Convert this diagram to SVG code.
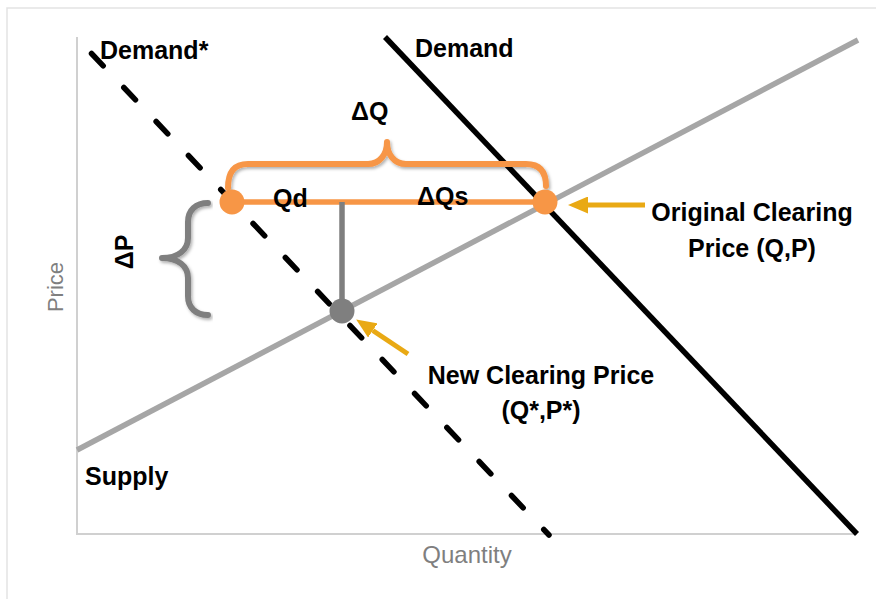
<svg xmlns="http://www.w3.org/2000/svg" width="876" height="599" viewBox="0 0 876 599">
<style>
.lbl{font-family:"Liberation Sans",Arial,sans-serif;font-weight:bold;font-size:25px;fill:#000}
.ax{font-family:"Liberation Sans",Arial,sans-serif;font-size:22px;fill:#7f7f7f}
.axis{stroke:#d0d0d0;stroke-width:2;fill:none}
.brace{fill:none;stroke-width:6;stroke-linecap:round;stroke-linejoin:round;filter:url(#sh)}
.gold{stroke:#e9a914;stroke-width:5;fill:none;marker-end:url(#ah)}
</style>
<defs>
<filter id="sh" x="-10%" y="-10%" width="120%" height="130%">
<feDropShadow dx="1.5" dy="2" stdDeviation="1.5" flood-color="#000" flood-opacity="0.3"/>
</filter>
<marker id="ah" viewBox="0 0 20 17" refX="0" refY="8.5" markerWidth="20" markerHeight="17" orient="auto" markerUnits="userSpaceOnUse">
<path d="M0,0 L20,8.5 L0,17 z" fill="#e9a914"/>
</marker>
</defs>
<rect x="7" y="8" width="900" height="700" fill="#fff" stroke="#e3e3e3" stroke-width="1.5"/>
<g id="axes">
<line class="axis" x1="77" y1="37" x2="77" y2="534"/>
<line class="axis" x1="76" y1="534" x2="857" y2="534"/>
<text class="ax" transform="translate(63,287) rotate(-90)" text-anchor="middle">Price</text>
<text class="ax" x="467" y="563" text-anchor="middle" style="font-size:24px">Quantity</text>
</g>
<g id="connectors">
<line id="supply" x1="77" y1="450" x2="858" y2="40" stroke="#a6a6a6" stroke-width="5.5"/>
<line id="demand" x1="385" y1="37" x2="857" y2="534" stroke="#000" stroke-width="5.5"/>
<line id="demand-star" x1="91.5" y1="53.5" x2="549" y2="535" stroke="#000" stroke-width="5.5" stroke-linecap="round" stroke-dasharray="17 29.9"/>
<line id="dq-line" x1="232" y1="202" x2="545" y2="202" stroke="#f79646" stroke-width="5.5"/>
<line id="drop" x1="342" y1="202" x2="342" y2="311" stroke="#7f7f7f" stroke-width="5.5"/>
<path id="brace-q" class="brace" stroke="#f79646" d="M228,188 C228,172 234,164 248,164 L368,164 C380,164 387,154 387,142 C387,154 394,164 406,164 L526,164 C540,164 546,172 546,186"/>
<path id="brace-p" class="brace" stroke="#7f7f7f" d="M208,203 C196,203 188,210 188,222 L188,238 C188,250 178,258 162,258 C178,258 188,266 188,278 L188,296 C188,308 196,315 208,315"/>
<line id="arrow-orig" class="gold" x1="645" y1="205" x2="588" y2="205"/>
<line id="arrow-new" class="gold" x1="408" y1="354" x2="372.8" y2="330.5"/>
</g>
<g id="node-original">
<circle cx="545" cy="202" r="12.5" fill="#f79646"/>
</g>
<g id="node-left">
<circle cx="232" cy="202" r="12.5" fill="#f79646"/>
</g>
<g id="node-new">
<circle cx="342" cy="311" r="12.5" fill="#7f7f7f"/>
</g>
<g id="labels">
<text class="lbl" x="100" y="59">Demand*</text>
<text class="lbl" x="415" y="57">Demand</text>
<text class="lbl" x="351" y="120">ΔQ</text>
<text class="lbl" x="273" y="207">Qd</text>
<text class="lbl" x="417" y="205">ΔQs</text>
<text class="lbl" transform="translate(133,252) rotate(-90)" text-anchor="middle">ΔP</text>
<text class="lbl" x="752" y="221" text-anchor="middle">Original Clearing</text>
<text class="lbl" x="752" y="257" text-anchor="middle">Price (Q,P)</text>
<text class="lbl" x="541" y="384" text-anchor="middle">New Clearing Price</text>
<text class="lbl" x="541" y="419" text-anchor="middle">(Q*,P*)</text>
<text class="lbl" x="85" y="485">Supply</text>
</g>
</svg>
